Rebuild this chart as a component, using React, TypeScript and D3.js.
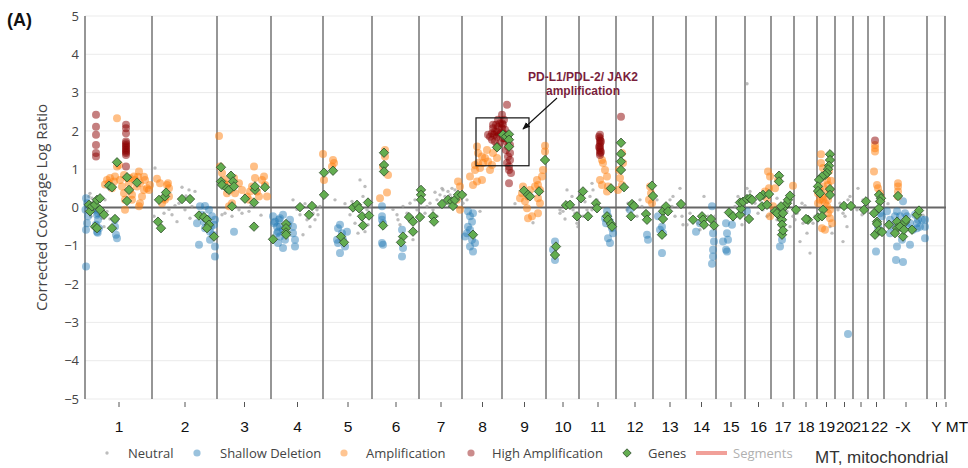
import { useRef, useEffect } from 'react';
import * as d3 from 'd3';

// chromosome order and relative widths on the genome axis (bins)
const chromosomes = ['1', '2', '3', '4', '5', '6', '7', '8', '9', '10', '11', '12', '13', '14', '15', '16', '17', '18', '19', '20', '21', '22', 'X', 'Y', 'MT'];
const chromSizes = [67, 65, 54, 52, 49, 47, 43, 40, 44, 33, 37, 37, 33, 30, 29, 26, 23, 23, 18, 18, 15, 16, 43, 18, 1];
const chromTickLabels = ['1', '2', '3', '4', '5', '6', '7', '8', '9', '10', '11', '12', '13', '14', '15', '16', '17', '18', '19', '20', '21', '22', '-X', 'Y', 'MT'];
const yTicks = [-5, -4, -3, -2, -1, 0, 1, 2, 3, 4, 5];

// [genome bin, corrected log ratio]
const neutral = [
  [5, 0.37], [7, 0.24], [9, 0.16], [4, 0.29], [17, -0.28], [19, -0.5], [20, 0.2], [14, -0.19], [12, 0.16], [6, -0.23], [22, -0.1], [10, -0.06], [2, 0.05], [25, -0.3], [15, 0.02],
  [70, 1.03], [97, 0.53], [104, 0.46], [110, 0.42], [94, 0.11], [105, -0.28], [92, -0.37], [87, -0.19], [100, -0.06], [107, 0.03], [69, -0.23], [79, -0.15], [90, 0.05], [101, 0.3], [84, -0.05],
  [137, -0.19], [140, -0.15], [157, -0.15], [164, -0.1], [147, -0.23], [154, -0.06], [176, -0.2], [166, 0.05],
  [208, 0.2], [215, -0.19], [222, -0.32], [225, -0.5], [230, -0.32], [235, 0.03], [232, -0.06], [218, -0.71], [228, -0.15], [233, -0.19], [220, 0.1], [212, -0.05],
  [250, 0.2], [267, 0.16], [275, 0.72], [280, 0.55], [278, 0.29], [282, -0.06], [280, -0.63], [273, -0.67], [270, -0.41], [285, 0.03], [265, -0.19], [260, 0.1], [276, -0.3], [283, -0.45],
  [312, -0.19], [313, -0.32], [318, 0.03], [322, -0.15], [328, -0.84], [332, -0.06], [325, 0.11], [315, -0.45], [308, -0.05], [330, 0.2],
  [342, 0.03], [348, -0.06], [352, 0.2], [355, 0.33], [358, 0.46], [360, 0.29], [363, 0.42], [365, 0.33], [370, 0.46], [372, 0.29], [352, -0.23], [345, 0.11], [362, 0.2], [357, 0.5], [367, 0.5], [340, -0.15], [350, 0.4], [368, 0.15],
  [378, 0.11], [382, 0.2], [380, 0.35], [395, -0.1], [430, 0.1], [448, -0.4],
  [475, -0.06], [478, -0.1], [482, 0.46], [487, 0.29], [488, -0.06], [475, -0.15], [492, -0.41], [490, -0.15], [493, -0.5], [483, 0.11], [480, -0.3],
  [505, 0.29], [508, 0.46], [507, 0.63], [512, 0.2], [502, -0.06], [498, -0.23], [507, -0.06], [500, 0.15],
  [542, -0.06], [543, 0.11], [552, -0.23], [557, 0.03], [555, 0.2],
  [585, 0.2], [588, 0.29], [590, -0.23], [595, 0.5], [597, -0.23], [598, -0.45], [593, 0.03], [587, 0.03], [572, 0.2],
  [605, -0.15], [613, -0.41], [619, 0.29], [623, -0.23], [630, -0.23], [615, -0.58], [602, -0.45],
  [650, 0.03], [653, 0.29], [658, 0.2], [662, 0.5], [657, -0.45], [648, -0.32], [662, 3.23],
  [665, 0.42], [670, 0.11], [672, 0.29], [678, -0.06], [685, -0.19], [682, -0.23], [673, -0.15],
  [705, -0.5], [708, -0.23], [692, -0.32], [702, -0.1], [715, -0.89], [710, -0.32], [692, 0.24],
  [717, 0.11], [718, -0.41], [722, -0.67], [725, -1.19], [728, -0.41], [730, -0.23], [712, -0.15], [720, 0.05],
  [745, -0.5], [747, -0.67],
  [753, -0.06], [758, -0.15], [760, -0.23], [763, 0.2], [765, 0.29], [762, -0.5], [758, -0.89], [755, 0.11],
  [773, 0.5], [778, 0.2], [777, -0.19], [782, 0.03], [772, -0.06],
  [803, 0.1], [838, -0.2],
];

const shallowDeletion = [
  [1, 0.24], [2, 0.11], [0.5, -0.06], [3, -0.23], [2, -0.41], [1, -0.58], [11, -0.06], [12, -0.19], [13, -0.32], [11, -0.45], [14, -0.54], [12, -0.63], [30, -0.32], [30, -0.5], [31, -0.71], [32, -0.8], [1, -1.54], [13, -0.15], [12.7, -0.66],
  [115, 0.03], [120, 0.04], [124, -0.06], [117, -0.19], [112, -0.41], [127, -0.23], [129, -0.45], [125, -0.63], [130, -0.32], [114, -0.97], [130, -1.28], [125, -0.84], [120, -0.54], [119, -0.37], [130, -1.02], [128, -0.71], [122, -0.3], [126, -0.5],
  [149, -0.63],
  [189, -0.41], [194, -0.32], [195, -0.5], [188, -0.23], [190, -0.37], [192, -0.5], [193, -0.63], [195, -0.28], [198, -0.19], [198, -0.58], [200, -0.84], [198, -1.06], [208, -0.5], [208, -0.67], [210, -0.84], [210, -1.02], [205, -0.32], [203, -0.45], [192, -0.67], [195, -0.76], [193, -0.93],
  [255, -0.45], [253, -0.54], [257, -0.67], [253, -0.93], [255, -1.19], [258, -0.84], [260, -1.02], [262, -0.63], [252, -0.84],
  [297, 0.03], [297, -0.23], [297, -0.32], [297, -0.93], [298, -0.97], [317, -0.58], [318, -1.06], [317, -1.28], [298, -0.41],
  [383, -0.1], [385, -0.23], [383, -0.5], [382, -0.67], [387, -0.84], [388, -1.15], [390, -0.93], [380, -0.76], [385, -0.58], [387, -0.37], [388, -0.15], [385, -1.02],
  [470, -0.89], [468, -1.1], [470, -1.37],
  [522, -0.1], [523, -0.23], [525, -0.37], [527, -0.54], [521, -0.41], [528, -0.67], [523, -0.8], [525, -0.93], [520, -0.28],
  [562, -0.71], [563, -0.84], [545, -0.06],
  [577, -0.5], [575, -0.58], [578, -0.67], [577, -1.19], [573, -0.23],
  [611, -0.63], [627, 0.03], [628, -0.67], [629, -0.89], [628, -1.1], [628, -1.28], [627, -1.47], [615, -0.41],
  [638, -0.89], [641, -0.41], [642, -0.67], [643, -0.84], [641, -1.1], [642, -1.15], [647, -0.45], [662, -0.1],
  [695, -1.02], [697, -0.84],
  [763, -3.3],
  [791, -1.15], [795, -0.15], [797, -0.23], [793, -0.5],
  [802, -0.1], [805, -0.32], [810, -0.23], [812, -0.1], [818, 0.16], [820, -0.15], [822, -0.23], [825, -0.41], [828, -0.58], [832, -0.41], [833, -0.32], [837, -0.32], [840, -0.32], [840, -0.5], [840, -0.8], [835, -0.5], [811, -1.37], [818, -1.42], [812, -1.02], [817, -0.84], [818, -0.54], [808, -0.5], [805, -0.67], [825, -0.97], [830, -0.19], [832, -0.54], [815, -0.23], [822, -0.5],
];

const amplification = [
  [32, 2.33], [22, 0.72], [24, 0.63], [25, 0.77], [29, 0.68], [30, 0.81], [32, 1.07], [34, 1.11], [35, 0.72], [37, 0.55], [39, 0.37], [40, 0.2], [42, 0.77], [44, 0.63], [45, 0.46], [47, 0.33], [49, 0.81], [50, 0.72], [52, 0.55], [54, 0.94], [55, 0.63], [57, 0.29], [59, 0.46], [60, 0.72], [62, 0.5], [64, 0.46], [65, 0.59], [55, 0.11], [47, 0.2], [40, -0.06], [54, 0.03], [53, 0.8], [59, 0.8], [45, 0.77], [39, 0.85], [20, 0.6], [27, 0.5],
  [72, 0.75], [75, 0.63], [79, 0.24], [82, 0.59], [84, 0.5], [84, 0.29], [80, 0.2], [77, 0.11], [83, 0.63],
  [134, 1.87], [135, 1.07], [137, 0.9], [140, 0.72], [144, 0.59], [145, 0.46], [149, 0.77], [150, 0.37], [154, 0.63], [157, 0.46], [162, 0.29], [164, 0.2], [165, 0.42], [167, 0.55], [169, 1.07], [170, 0.77], [172, 0.42], [174, 0.29], [177, 0.72], [180, 0.59], [182, 0.29], [144, 0.03], [147, 0.11], [142, 0.37], [139, 0.63], [179, 0.81],
  [238, 1.4], [248, 1.24], [249, 1.16], [247, 1.07], [239, 0.72],
  [300, 1.5], [300, 1.33], [303, 0.85], [295, 0.24], [302, 0.39], [298, 1.07],
  [373, 0.68], [375, 0.55], [372, 0.2], [375, -0.06],
  [392, 1.59], [397, 1.33], [400, 1.29], [402, 1.5], [393, 1.16], [390, 0.98], [395, 1.03], [398, 1.16], [403, 1.2], [405, 0.98], [408, 1.42], [392, 0.68], [388, 0.59], [397, 0.72], [385, 0.81], [412, 1.29], [390, 1.11], [393, 1.42], [407, 1.11],
  [460, 1.61], [460, 1.46], [458, 0.98], [457, 0.81], [452, 0.72], [453, 0.59], [455, 0.46], [445, 0.46], [443, 0.29], [440, 0.16], [437, 0.37], [442, -0.02], [447, -0.23], [443, -0.28], [453, -0.15], [438, 0.55], [450, 0.55], [435, 0.24], [453, 0.24], [455, 0.11],
  [518, 1.16], [520, 0.98], [522, 0.81], [517, 1.24], [515, 0.72], [517, 0.59], [523, 0.55], [522, 0.42],
  [537, 1.42], [538, 1.16], [535, 0.77], [537, 0.59], [533, 0.46], [565, 0.55], [566, 0.37], [564, 0.2], [567, 0.11], [534, 0.98],
  [683, 0.94], [684, 0.5], [680, 0.42], [682, 0.24], [685, 0.81],
  [690, 0.5], [693, 0.72], [688, 0.03], [708, 0.57], [685, -0.23],
  [736, 1.39], [736, 1.16], [738, 1.03], [740, 0.85], [742, 0.72], [743, 0.59], [745, 0.46], [733, 0.37], [737, 0.29], [738, 0.2], [740, 0.11], [742, 0.03], [745, -0.06], [743, -0.15], [745, -0.28], [747, -0.41], [737, -0.54], [740, -0.58], [735, 0.2], [742, 0.37], [738, 0.55], [733, 0.11], [735, 0.46], [743, 0.2], [744, 0.95], [746, 0.7],
  [790, 1.63], [790, 1.55], [790, 1.46], [789, 0.94], [792, 0.59], [793, 0.5], [795, 0.37], [796, 0.24],
  [813, 0.63], [813, 0.55], [813, 0.42], [813, 0.29],
];

const highAmplification = [
  [11, 2.42], [11, 2.11], [11, 1.9], [11, 1.63], [11, 1.42], [11, 1.33],
  [41, 2.16], [41, 2.07], [41, 1.94], [41, 1.72], [41, 1.63], [41, 1.59], [41, 1.5], [41, 1.46], [41, 1.42], [41, 1.37], [41, 1.07], [41, 1.55], [41, 1.68],
  [407, 1.94], [408, 2.07], [410, 1.98], [412, 1.85], [413, 2.11], [415, 2.2], [417, 2.07], [418, 1.94], [420, 1.81], [422, 1.72], [423, 1.59], [425, 1.42], [425, 1.24], [424, 1.07], [426, 0.9], [405, 1.85], [403, 1.9], [410, 1.72], [412, 1.59], [415, 1.68], [417, 2.42], [417, 2.2], [422, 2.68], [424, 0.63], [413, 2.29], [408, 2.16], [418, 2.16], [420, 2.03], [422, 1.9], [423, 1.77], [425, 1.63], [414, 1.9], [411, 2.16], [421, 1.5], [423, 1.33], [407, 1.77], [409, 1.9], [412, 1.98], [416, 1.94], [418, 1.81], [419, 2.29], [422, 1.16], [424, 0.98],
  [515, 1.9], [515, 1.81], [515, 1.75], [515, 1.68], [515, 1.61], [515, 1.55], [515, 1.49], [515, 1.42], [515, 1.37], [514, 1.85], [516, 1.72], [514, 1.58], [516, 1.45],
  [536, 2.37], [790, 1.75],
];

const genes = [
  [4, 0.07], [5, -0.1], [7, 0.03], [10, 0.07], [12, 0.2], [15, 0.24], [15, -0.06], [19, -0.19], [10, -0.5], [12, -0.54], [24, 0.57], [27, 0.53], [32, 1.18], [42, 0.79], [44, 0.46], [52, 0.65], [42, 0.17], [30, -0.3], [27, -0.54],
  [74, 0.2], [80, 0.29], [81, 0.39], [97, 0.22], [105, 0.22], [73, -0.37], [76, -0.54], [114, -0.21], [119, -0.25], [122, -0.32], [124, -0.45], [122, -0.54], [129, -0.76],
  [136, 1.05], [136, 0.68], [137, 0.59], [142, 0.5], [144, 0.46], [146, 0.83], [148, 0.68], [149, 0.55], [147, 0.03], [160, 0.23], [169, 0.13], [170, 0.46], [170, 0.55], [180, 0.53], [169, -0.5],
  [188, -0.83], [201, -0.43], [201, -0.54], [201, -0.65], [201, -0.71], [215, 0.01], [227, 0.04], [224, -0.19],
  [239, 0.91], [248, 0.96], [239, 0.33], [268, 0], [272, 0.07], [274, -0.02], [283, 0.13], [277, -0.23], [284, -0.21], [278, -0.47], [256, -0.76], [259, -0.91],
  [299, 1.43], [299, 1.11], [299, 0.94], [298, -0.47], [324, -0.25], [328, -0.37], [328, -0.63], [318, -0.76], [316, -0.91],
  [336, 0.46], [336, 0.33], [336, 0.2], [335, -0.25], [348, -0.23], [349, -0.37], [357, 0.09], [363, 0.2], [367, 0.16], [368, 0.04], [370, 0.2], [373, 0.33],
  [412, 1.57], [418, 1.9], [421, 1.85], [424, 1.91], [424, 1.77], [424, 1.59], [388, -0.71], [377, 0.33],
  [460, 1.24], [439, 0.44], [443, 0.33], [445, 0.29], [454, 0.42],
  [471, -1.02], [470, -1.24], [481, 0.06], [485, 0.07], [492, -0.23],
  [496, 0.24], [498, 0.42], [503, -0.23], [511, 0.11], [512, -0.02], [522, -0.23], [523, -0.32], [526, -0.43], [527, -0.5], [526, 0.5],
  [536, 1.69], [536, 1.4], [536, 1.2], [536, 0.98], [539, 0.53], [547, 0.09], [549, 0.04], [546, -0.23], [561, -0.17], [562, -0.32], [567, 0.57], [568, 0.3],
  [578, -0.1], [581, 0.03], [583, -0.1], [578, -0.3], [577, -0.71], [596, 0.09],
  [608, -0.32], [617, -0.23], [618, -0.32], [619, -0.45], [626, -0.3], [629, -0.47],
  [644, -0.13], [648, -0.23], [655, -0.19], [656, -0.03], [655, 0.13], [664, -0.3], [658, 0.15],
  [662, 0.22], [665, 0.24], [667, 0.2], [677, 0.03], [678, 0.33], [682, 0.07], [684, 0.35], [675, 0.28],
  [694, 0.83], [694, 0.68], [690, -0.1], [693, -0.15], [695, -0.23], [697, -0.32], [697, -0.45], [697, -0.71], [698, -0.6], [700, 0.03], [702, 0.11], [703, 0.2], [705, 0.31], [711, -0.06], [696, 0.03], [692, -0.15], [698, -0.15],
  [723, -0.32], [721, -0.3],
  [745, 1.39], [745, 1.24], [744, 1.09], [743, 1], [742, 0.9], [740, 0.85], [737, 0.81], [734, 0.72], [733, 0.55], [733, 0.43], [735, 0.37], [745, 0.48], [745, 0.33], [738, -0.06], [733, -0.26], [737, -0.23],
  [759, 0.04], [766, 0.04],
  [781, 0.16], [779, -0.06],
  [794, 0.33], [796, 0.24], [795, 0.16], [794, -0.02], [792, -0.37], [792, -0.43], [790, -0.71], [794, -0.6], [797, -0.64], [789, -0.15],
  [804, -0.45], [812, -0.37], [813, 0.3], [812, -0.54], [810, -0.67], [815, -0.5], [818, -0.76], [820, -0.38], [821, -0.32], [827, -0.58], [832, -0.19], [834, -0.08], [819, -0.58],
];

// highlighted region on chr8/chr9 (bins, log ratio) and where the arrow points
const highlightBox = [391, 444, 1.09, 2.34];
const arrowTip = [438, 2.05];
const annotationLines = ['PD-L1/PDL-2/ JAK2', 'amplification'];

const legendItems = ['Neutral', 'Shallow Deletion', 'Amplification', 'High Amplification', 'Genes', 'Segments'];

// small nudges so crowded chromosome labels sit like the original
const tickLabelShift: Record<string, number> = { '22': 3, '-X': -3, MT: 11 };

export default function App() {
  const ref = useRef<SVGSVGElement>(null);

  useEffect(() => {
    if (!ref.current) return;
    const width = 968;
    const height = 468;
    const marginLeft = 85, marginRight = 22, marginTop = 16, marginBottom = 69;
    const sansFont = '"Open Sans", sans-serif';
    const arialFont = '"Liberation Sans", Arial, sans-serif';

    const svg = d3.select(ref.current)
      .attr('width', width)
      .attr('height', height)
      .attr('viewBox', `0 0 ${width} ${height}`);
    svg.selectAll('*').remove();

    const total = d3.sum(chromSizes);
    const starts = chromSizes.map((_, i) => d3.sum(chromSizes.slice(0, i)));
    const mids = chromSizes.map((s, i) => starts[i] + s / 2);

    const x = d3.scaleLinear().domain([0, total]).range([marginLeft, width - marginRight]);
    const y = d3.scaleLinear().domain([-5, 5]).range([height - marginBottom, marginTop]);

    // horizontal grid
    svg.append('g')
      .selectAll('line')
      .data(yTicks.filter(d => d !== 0))
      .join('line')
      .attr('x1', x(0)).attr('x2', x(total))
      .attr('y1', d => y(d)).attr('y2', d => y(d))
      .attr('stroke', '#ebebeb')
      .attr('stroke-width', 1);

    // chromosome boundaries
    svg.append('g')
      .selectAll('line')
      .data(starts)
      .join('line')
      .attr('x1', d => x(d)).attr('x2', d => x(d))
      .attr('y1', y(5)).attr('y2', y(-5))
      .attr('stroke', '#7c7c7c')
      .attr('stroke-width', 1.6);

    // zero line
    svg.append('line')
      .attr('x1', x(0)).attr('x2', x(total))
      .attr('y1', y(0)).attr('y2', y(0))
      .attr('stroke', '#666')
      .attr('stroke-width', 2);

    // y axis labels
    const yAxis = svg.append('g')
      .attr('transform', `translate(${marginLeft},0)`)
      .call(d3.axisLeft(y).tickValues(yTicks).tickSize(0).tickPadding(6)
        .tickFormat(d => (+d < 0 ? `\u2212${-d}` : `${d}`)));
    yAxis.select('.domain').remove();
    yAxis.selectAll('text')
      .attr('font-family', sansFont)
      .attr('font-size', 13)
      .attr('fill', '#444');

    svg.append('text')
      .attr('transform', `translate(47,${y(0)}) rotate(-90)`)
      .attr('text-anchor', 'middle')
      .attr('font-family', sansFont)
      .attr('font-size', 15)
      .attr('fill', '#444')
      .text('Corrected Coverage Log Ratio');

    // x axis: chromosome labels
    const xAxis = svg.append('g')
      .attr('transform', `translate(0,${y(-5) + 3})`)
      .call(d3.axisBottom(x).tickValues(mids).tickSize(5).tickPadding(14)
        .tickFormat((_, i) => chromTickLabels[i]));
    xAxis.select('.domain').remove();
    xAxis.selectAll('line').attr('stroke', '#555');
    xAxis.selectAll<SVGTextElement, number>('text')
      .attr('font-family', arialFont)
      .attr('font-size', 15.5)
      .attr('fill', '#111')
      .attr('dx', (_, i) => tickLabelShift[chromTickLabels[i]] ?? 0);

    // points
    const plot = svg.append('g');
    plot.append('g')
      .selectAll('circle')
      .data(neutral)
      .join('circle')
      .attr('cx', d => x(d[0])).attr('cy', d => y(d[1]))
      .attr('r', 1.7)
      .attr('fill', '#999')
      .attr('fill-opacity', 0.65);

    const dotLayer = (data: number[][], color: string, opacity: number) => {
      plot.append('g')
        .selectAll('circle')
        .data(data)
        .join('circle')
        .attr('cx', d => x(d[0])).attr('cy', d => y(d[1]))
        .attr('r', 4)
        .attr('fill', color)
        .attr('fill-opacity', opacity);
    };
    dotLayer(shallowDeletion, '#1f77b4', 0.45);
    dotLayer(amplification, '#ff7f0e', 0.5);
    dotLayer(highAmplification, '#8b0000', 0.5);

    const diamond = (r: number) => `M0,${-r}L${r},0L0,${r}L${-r},0Z`;
    plot.append('g')
      .selectAll('path')
      .data(genes)
      .join('path')
      .attr('transform', d => `translate(${x(d[0])},${y(d[1])})`)
      .attr('d', diamond(4.7))
      .attr('fill', '#63ad50')
      .attr('stroke', '#2f4a2c')
      .attr('stroke-width', 0.8);

    // annotation box and arrow
    svg.append('rect')
      .attr('x', x(highlightBox[0]))
      .attr('y', y(highlightBox[3]))
      .attr('width', x(highlightBox[1]) - x(highlightBox[0]))
      .attr('height', y(highlightBox[2]) - y(highlightBox[3]))
      .attr('fill', 'none')
      .attr('stroke', '#111')
      .attr('stroke-width', 1.2);

    svg.append('defs').append('marker')
      .attr('id', 'arrowhead')
      .attr('viewBox', '0 0 10 10')
      .attr('refX', 9).attr('refY', 5)
      .attr('markerWidth', 7).attr('markerHeight', 7)
      .attr('orient', 'auto')
      .append('path')
      .attr('d', 'M0,1L10,5L0,9Z')
      .attr('fill', '#111');

    const tipX = x(arrowTip[0]);
    const tipY = y(arrowTip[1]);
    svg.append('line')
      .attr('x1', tipX + 34).attr('y1', tipY - 31)
      .attr('x2', tipX).attr('y2', tipY)
      .attr('stroke', '#111')
      .attr('stroke-width', 1.1)
      .attr('marker-end', 'url(#arrowhead)');

    svg.append('g')
      .selectAll('text')
      .data(annotationLines)
      .join('text')
      .attr('x', tipX + 60)
      .attr('y', (_, i) => tipY - 48 + i * 14)
      .attr('text-anchor', 'middle')
      .attr('font-family', arialFont)
      .attr('font-weight', 'bold')
      .attr('font-size', 12)
      .attr('fill', '#7a1f3d')
      .text(d => d);

    // panel label
    svg.append('text')
      .attr('x', 7).attr('y', 26)
      .attr('font-family', arialFont)
      .attr('font-weight', 'bold')
      .attr('font-size', 18)
      .attr('fill', '#111')
      .text('(A)');

    // legend
    const legendY = 453;
    const legend = svg.append('g').attr('font-family', sansFont).attr('font-size', 13);
    const markerX = [107, 197, 344, 471, 627, 711];
    const textX = [128, 220, 366, 492, 648, 733];
    legendItems.forEach((name, i) => {
      if (i === 0) {
        legend.append('circle').attr('cx', markerX[i]).attr('cy', legendY).attr('r', 1.7).attr('fill', '#999').attr('fill-opacity', 0.65);
      } else if (i === 1 || i === 2 || i === 3) {
        const c = ['#1f77b4', '#ff7f0e', '#8b0000'][i - 1];
        legend.append('circle').attr('cx', markerX[i]).attr('cy', legendY).attr('r', 3.6).attr('fill', c).attr('fill-opacity', 0.45);
      } else if (i === 4) {
        legend.append('path').attr('transform', `translate(${markerX[i]},${legendY})`).attr('d', diamond(4.2))
          .attr('fill', '#63ad50').attr('stroke', '#2f4a2c').attr('stroke-width', 0.8);
      } else {
        legend.append('line').attr('x1', markerX[i] - 15).attr('x2', markerX[i] + 16)
          .attr('y1', legendY).attr('y2', legendY)
          .attr('stroke', '#ee8880').attr('stroke-width', 4).attr('stroke-opacity', 0.8);
      }
      legend.append('text')
        .attr('x', textX[i]).attr('y', legendY)
        .attr('dy', '0.35em')
        .attr('fill', i === 5 ? '#b0b0b0' : '#444')
        .text(name);
    });

    svg.append('text')
      .attr('x', 815).attr('y', legendY + 4)
      .attr('dy', '0.35em')
      .attr('font-family', arialFont)
      .attr('font-size', 17)
      .attr('fill', '#333')
      .text('MT, mitochondrial');
  }, []);

  return <svg ref={ref} style={{ position: 'absolute', left: 0, top: 0, display: 'block' }}></svg>;
}
